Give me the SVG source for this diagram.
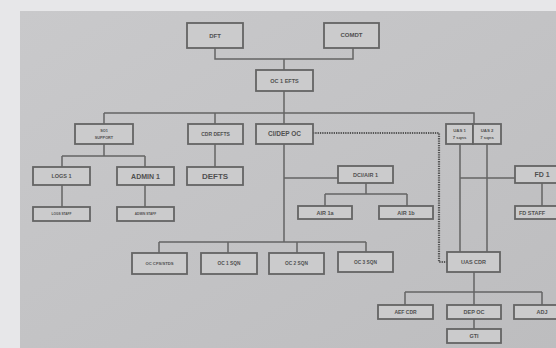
<svg xmlns="http://www.w3.org/2000/svg" width="556" height="348" viewBox="0 0 556 348">
<defs>
<linearGradient id="paper" x1="0" y1="0" x2="1" y2="1">
<stop offset="0" stop-color="#c9c9cb"/>
<stop offset="1" stop-color="#bdbdbf"/>
</linearGradient>
</defs>
<style>
.b{fill:#cbcbcc;stroke:#646464;stroke-width:1.8}
.t{font-family:"Liberation Sans",Arial,sans-serif;font-weight:bold;fill:#505050;text-anchor:middle;dominant-baseline:central}
.c{fill:none;stroke:#646464;stroke-width:1.5}
.d{fill:none;stroke:#555;stroke-width:2.2;stroke-dasharray:1.3 1}
</style>
<rect x="0" y="0" width="556" height="348" fill="#e7e7e9"/>
<rect x="20" y="11" width="536" height="337" fill="url(#paper)"/>
<g id="connectors">
<path class="c" d="M215 48V59H353V48M284 59V70M284 91V113M104 113H474V124M104 113V124M215 113V124M284 113V124"/>
<path class="c" d="M104 144V156M62 156H145M62 156V167M145 156V167M62 185V207M145 185V207M215 144V167"/>
<path class="c" d="M284 144V242M284 178H338M366 183V194M325 194H407M325 194V206M407 194V206"/>
<path class="c" d="M159 242H366M159 242V253M228 242V253M297 242V253M366 242V252"/>
<path class="c" d="M460 144V252M487 144V252M460 178H515M542 183V206"/>
<path class="c" d="M474 272V292M405 292H542M405 292V305M542 292V305M474 292V305M474 319V329"/>
<path class="d" d="M313 133H439V262H447"/>
</g>
<g id="dft"><rect class="b" x="187" y="23" width="56" height="25"/><text class="t" x="215" y="35.5" font-size="6">DFT</text></g>
<g id="comdt"><rect class="b" x="324" y="23" width="55" height="25"/><text class="t" x="351.5" y="35" font-size="6">COMDT</text></g>
<g id="oc1efts"><rect class="b" x="256" y="70" width="57" height="21"/><text class="t" x="284.5" y="80.5" font-size="5.5">OC 1 EFTS</text></g>
<g id="so1"><rect class="b" x="75" y="124" width="58" height="20"/><text class="t" x="104" y="131" font-size="3.8">SO1</text><text class="t" x="104" y="137.5" font-size="3.8">SUPPORT</text></g>
<g id="cdrdefts"><rect class="b" x="188" y="124" width="55" height="20"/><text class="t" x="215.5" y="133.5" font-size="5">CDR DEFTS</text></g>
<g id="cidepoc"><rect class="b" x="256" y="124" width="57" height="20"/><text class="t" x="284.5" y="133.5" font-size="6.5">CI/DEP OC</text></g>
<g id="uas1"><rect class="b" x="446" y="124" width="27" height="20"/><text class="t" x="459.5" y="130.5" font-size="4.3">UAS 1</text><text class="t" x="459.5" y="137.5" font-size="4.3">7 sqns</text></g>
<g id="uas2"><rect class="b" x="473" y="124" width="28" height="20"/><text class="t" x="487" y="130.5" font-size="4.3">UAS 2</text><text class="t" x="487" y="137.5" font-size="4.3">7 sqns</text></g>
<g id="logs1"><rect class="b" x="33" y="167" width="57" height="18"/><text class="t" x="61.5" y="176" font-size="5.5">LOGS 1</text></g>
<g id="admin1"><rect class="b" x="117" y="167" width="57" height="18"/><text class="t" x="145.5" y="176" font-size="7">ADMIN 1</text></g>
<g id="defts"><rect class="b" x="187" y="167" width="56" height="18"/><text class="t" x="215" y="176" font-size="8">DEFTS</text></g>
<g id="dciair1"><rect class="b" x="338" y="166" width="55" height="17"/><text class="t" x="365.5" y="174.5" font-size="5.5">DCI/AIR 1</text></g>
<g id="fd1"><rect class="b" x="515" y="166" width="45" height="17"/><text class="t" x="542" y="174.5" font-size="7">FD 1</text></g>
<g id="logsstaff"><rect class="b" x="33" y="207" width="57" height="14"/><text class="t" x="61.5" y="214" font-size="3.2">LOGS STAFF</text></g>
<g id="adminstaff"><rect class="b" x="117" y="207" width="57" height="14"/><text class="t" x="145.5" y="214" font-size="3.2">ADMIN STAFF</text></g>
<g id="air1a"><rect class="b" x="298" y="206" width="54" height="13"/><text class="t" x="325" y="212.5" font-size="5.5">AIR 1a</text></g>
<g id="air1b"><rect class="b" x="379" y="206" width="54" height="13"/><text class="t" x="406" y="212.5" font-size="5.5">AIR 1b</text></g>
<g id="fdstaff"><rect class="b" x="515" y="206" width="45" height="13"/><text class="t" x="519" y="212.5" font-size="5.5" style="text-anchor:start">FD STAFF</text></g>
<g id="occfs"><rect class="b" x="132" y="253" width="55" height="21"/><text class="t" x="159.5" y="263.5" font-size="4.2">OC CFS/STDS</text></g>
<g id="oc1sqn"><rect class="b" x="201" y="253" width="56" height="21"/><text class="t" x="229" y="263" font-size="4.8">OC 1 SQN</text></g>
<g id="oc2sqn"><rect class="b" x="269" y="253" width="55" height="21"/><text class="t" x="296.5" y="263" font-size="4.8">OC 2 SQN</text></g>
<g id="oc3sqn"><rect class="b" x="338" y="252" width="55" height="20"/><text class="t" x="365.5" y="262" font-size="4.8">OC 3 SQN</text></g>
<g id="uascdr"><rect class="b" x="447" y="252" width="53" height="20"/><text class="t" x="473.5" y="262" font-size="5.5">UAS CDR</text></g>
<g id="aefcdr"><rect class="b" x="378" y="305" width="55" height="14"/><text class="t" x="405.5" y="312" font-size="5">AEF CDR</text></g>
<g id="depoc"><rect class="b" x="447" y="305" width="54" height="14"/><text class="t" x="474" y="312" font-size="5.5">DEP OC</text></g>
<g id="adj"><rect class="b" x="514" y="305" width="46" height="14"/><text class="t" x="542" y="312" font-size="5.5">ADJ</text></g>
<g id="gti"><rect class="b" x="447" y="329" width="54" height="14"/><text class="t" x="474" y="336" font-size="5.5">GTI</text></g>
</svg>
